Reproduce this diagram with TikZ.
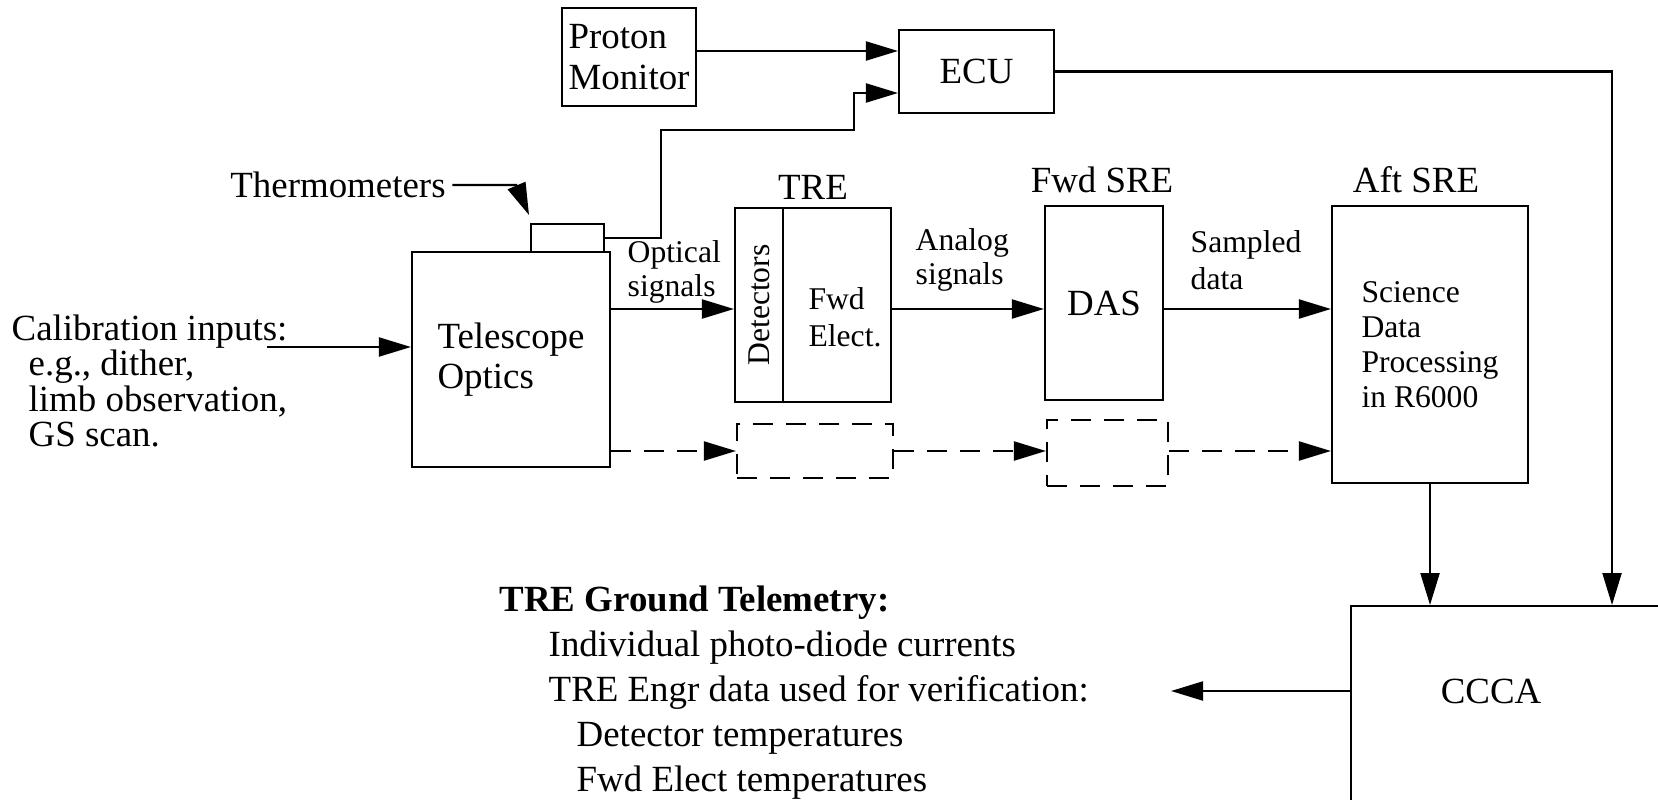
\documentclass[tikz,border=0pt]{standalone}
\usepackage{fontspec}
\setmainfont{Liberation Serif}
\usetikzlibrary{arrows.meta}
\usetikzlibrary{positioning}
\newcommand{\fsz}{\fontsize{10.5}{11.5}\selectfont}
\newcommand{\fss}{\fontsize{9}{9.5}\selectfont}

\begin{document}
\begin{tikzpicture}[
  box/.style={draw=black, line width=0.6pt, rectangle, inner sep=0pt, font=\fsz, align=left},
  dbox/.style={box, dash pattern=on 0.2cm off 0.13cm},
  txt/.style={font=\fsz, align=left, inner sep=0pt},
  stxt/.style={txt, font=\fss},
  line/.style={draw=black, line width=0.6pt},
  arr/.style={line, -{Triangle[length=0.32cm,width=0.19cm]}},
  darr/.style={arr, dash pattern=on 0.2cm off 0.13cm}]
\useasboundingbox (0,0) rectangle (16.58,7.99);

% top row
\node[box, minimum width=1.34cm, minimum height=0.98cm] (PM) at (6.29,7.42) {Proton\\Monitor};
\node[box, minimum width=1.55cm, minimum height=0.83cm] (ECU) at (9.765,7.275) {ECU};

% instrument chain
\node[box, minimum width=0.73cm, minimum height=0.28cm] (Therm) at (5.675,5.61) {};
\node[box, minimum width=1.98cm, minimum height=2.15cm] (Tel) at (5.11,4.395) {Telescope\\Optics};
\node[box, rotate=90, font=\fss, minimum width=1.94cm, minimum height=0.48cm] (Det) at (7.59,4.94) {Detectors};
\node[box, minimum width=1.08cm, minimum height=1.94cm] (Fwd) at (8.37,4.94) {};
\node[stxt, font=\fontsize{9}{10.5}\selectfont] (lFwd) at (8.45,4.82) {Fwd\\Elect.};
\node[box, minimum width=1.18cm, minimum height=1.94cm] (DAS) at (11.04,4.96) {DAS};
\node[box, minimum width=1.96cm, minimum height=2.77cm, font=\fontsize{9}{10}\selectfont] (Aft) at (14.30,4.545) {Science\\Data\\Processing\\in R6000};
\node[dbox, minimum width=1.56cm, minimum height=0.54cm] (D1) at (8.15,3.48) {};
\node[dbox, minimum width=1.21cm, minimum height=0.66cm] (D2) at (11.075,3.46) {};
\node[box, anchor=north west, minimum width=3.4cm, minimum height=2.3cm] (CCCA) at (13.5,1.94) {};
\node[txt] (lCCCA) at (14.91,1.08) {CCCA};

% labels
\node[txt] (lTRE) at (8.13,6.12) {TRE};
\node[txt] (lFwdSRE) at (11.02,6.19) {Fwd SRE};
\node[txt] (lAftSRE) at (14.16,6.19) {Aft SRE};
\node[stxt, anchor=west] (lOpt) at (6.27,5.27) {Optical\\signals};
\node[stxt, anchor=west] (lAna) at (9.15,5.39) {Analog\\signals};
\node[stxt, anchor=west, font=\fontsize{9}{10.5}\selectfont] (lSam) at (11.90,5.39) {Sampled\\data};
\node[txt] (lTherm) at (3.38,6.14) {Thermometers};
\node[txt, anchor=west, font=\fontsize{10.5}{10}\selectfont] (Cal) at (0.11,4.18) {Calibration inputs:\\\hspace*{0.17cm}e.g., dither,\\\hspace*{0.17cm}limb observation,\\\hspace*{0.17cm}GS scan.};
\node[txt, anchor=west, font=\fontsize{10.5}{12.8}\selectfont] (GT) at (4.99,1.065) {\textbf{TRE Ground Telemetry:}\\\hspace*{0.49cm}Individual photo-diode currents\\\hspace*{0.49cm}TRE Engr data used for verification:\\\hspace*{0.77cm}Detector temperatures\\\hspace*{0.77cm}Fwd Elect temperatures};

% connectors
\coordinate (calin) at (2.67,4.52);
\coordinate (gtend) at (11.71,1.08);
\draw[arr] (PM.east |- 0,7.48) -- (ECU.west |- 0,7.48);
\draw[arr] (Therm.east) -| (6.61,6.69) -| (8.54,7.06) -- (ECU.west |- 0,7.06);
\draw[arr] (ECU.east) -| (CCCA.north -| 16.12,0);
\draw[arr] ([xshift=0.06cm]lTherm.east) -- ++(0.64,0) -- (5.29,5.84);
\draw[arr] (calin) -- (Tel.west |- calin);
\draw[arr] (Tel.east |- 0,4.90) -- (Det.north |- 0,4.90);
\draw[arr] (Fwd.east |- 0,4.90) -- (DAS.west |- 0,4.90);
\draw[arr] (DAS.east |- 0,4.90) -- (Aft.west |- 0,4.90);
\draw[darr] (Tel.east |- D1.west) -- (D1.west);
\draw[darr] (D1.east) -- (D2.west |- D1.east);
\draw[darr] (D2.east |- D1.east) -- (Aft.west |- D1.east);
\draw[arr] (Aft.south) -- (Aft.south |- CCCA.north);
\draw[arr] (CCCA.west |- gtend) -- (gtend);

\end{tikzpicture}
\end{document}
